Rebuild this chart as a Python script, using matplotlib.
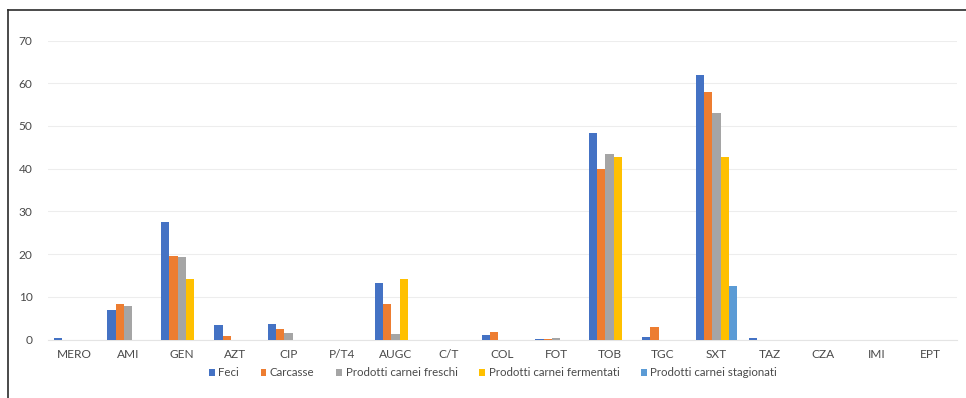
import matplotlib
matplotlib.use("Agg")
import matplotlib.pyplot as plt
from matplotlib.lines import Line2D
from matplotlib.patches import Patch
import numpy as np

plt.rcParams['font.family'] = ['Lato', 'DejaVu Sans']

categories = ["MERO", "AMI", "GEN", "AZT", "CIP", "P/T4", "AUGC", "C/T", "COL",
              "FOT", "TOB", "TGC", "SXT", "TAZ", "CZA", "IMI", "EPT"]

feci        = [0.3, 6.9, 27.6, 3.5, 3.6, 0, 13.2, 0, 1.0, 0.2, 48.4, 0.7, 61.9, 0.3, 0, 0, 0]
carcasse    = [0, 8.2, 19.6, 0.8, 2.5, 0, 8.2, 0, 1.7, 0.1, 39.9, 3.0, 58.0, 0, 0, 0, 0]
freschi     = [0, 7.8, 19.4, 0, 1.6, 0, 1.4, 0, 0, 0.3, 43.4, 0, 53.0, 0, 0, 0, 0]
fermentati  = [0, 0, 14.1, 0, 0, 0, 14.1, 0, 0, 0, 42.8, 0, 42.8, 0, 0, 0, 0]
stagionati  = [0, 0, 0, 0, 0, 0, 0, 0, 0, 0, 0, 0, 12.5, 0, 0, 0, 0]

series_names = ["Feci", "Carcasse", "Prodotti carnei freschi",
                "Prodotti carnei fermentati", "Prodotti carnei stagionati"]
series_values = [feci, carcasse, freschi, fermentati, stagionati]
colors = ["#4472C4", "#ED7D31", "#A5A5A5", "#FFC000", "#5B9BD5"]

yticks = [0, 10, 20, 30, 40, 50, 60, 70]

W, H = 966, 398
fig = plt.figure(figsize=(W / 100, H / 100), dpi=100)
fig.patch.set_facecolor("white")

left, right, top, bottom = 48, 957, 40.5, 339.5
ax = fig.add_axes([left / W, 1 - bottom / H, (right - left) / W, (bottom - top) / H])

x = np.arange(len(categories))
bw = 0.155
for i, (name, vals, c) in enumerate(zip(series_names, series_values, colors)):
    ax.bar(x + (i - 2) * bw, vals, width=bw, color=c, label=name, zorder=3)

text_color = "#4a4a4a"
ax.set_xlim(-0.5, len(categories) - 0.5)
ax.set_ylim(0, 70)
ax.set_yticks(yticks)
ax.set_yticklabels([str(v) for v in yticks])
ax.set_xticks(x)
ax.set_xticklabels(categories)
ax.tick_params(axis="both", length=0, colors=text_color, labelsize=8.6)
ax.tick_params(axis="y", pad=11)
ax.tick_params(axis="x", pad=7)
ax.grid(axis="y", color="#EDEDED", linewidth=0.8, zorder=0)
for s in ["top", "right", "left"]:
    ax.spines[s].set_visible(False)
ax.spines["bottom"].set_color("#E4E4E4")
ax.spines["bottom"].set_linewidth(0.8)

handles = [Patch(facecolor=c, edgecolor="none") for c in colors]
fig.legend(handles, series_names, loc="center", ncol=5,
           bbox_to_anchor=(493 / W, 1 - 373 / H), frameon=False,
           fontsize=8.3, handlelength=0.5, handleheight=0.5,
           handletextpad=0.3, columnspacing=1.9, labelcolor=text_color)

# outer frame
fig.add_artist(Line2D([8 / W, 8 / W], [1 - 10 / H, 0], transform=fig.transFigure,
                      color="#2b2b2b", linewidth=1.2))
fig.add_artist(Line2D([8 / W, 1], [1 - 10 / H, 1 - 10 / H], transform=fig.transFigure,
                      color="#2b2b2b", linewidth=1.2))

fig.savefig("out.png", dpi=100)
